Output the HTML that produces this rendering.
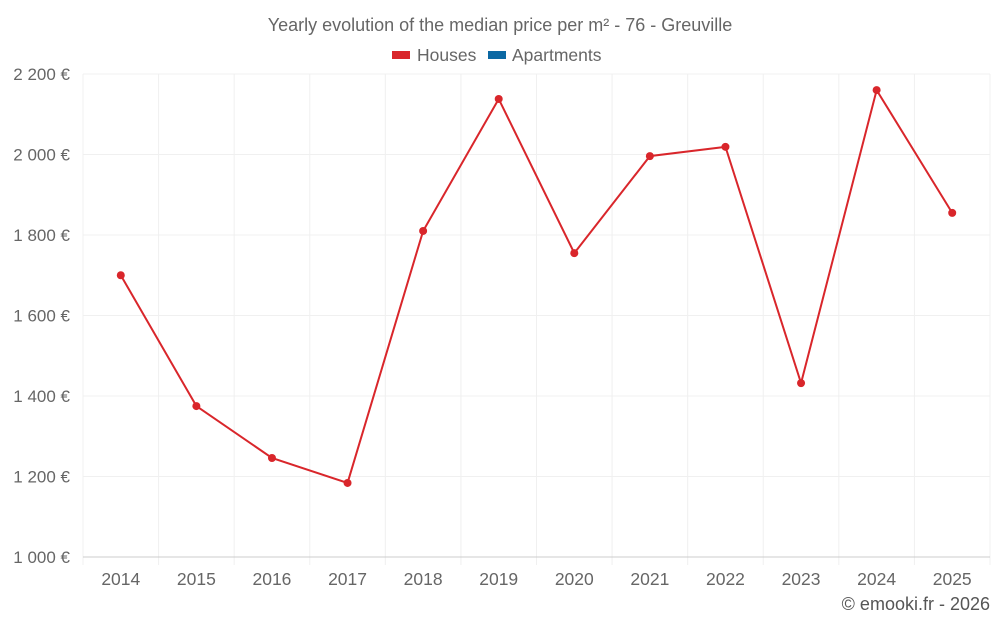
<!DOCTYPE html>
<html><head><meta charset="utf-8"><style>
body{margin:0;background:#fff;font-family:"Liberation Sans",sans-serif;}
svg text{font-family:"Liberation Sans",sans-serif;}
</style></head><body>
<svg id="chart" width="1000" height="625">
<text x="500" y="31" text-anchor="middle" font-size="18" fill="#666">Yearly evolution of the median price per m² - 76 - Greuville</text>
<g>
<g><rect x="392" y="51" width="18" height="8" fill="#d9262b"/><text x="417" y="61" font-size="17.5" fill="#666">Houses</text></g>
<g><rect x="488" y="51" width="18" height="8" fill="#0b68a3"/><text x="512" y="61" font-size="17.5" fill="#666">Apartments</text></g>
</g>
<g id="grid"></g><g id="axes"></g><g id="series"></g>
<text x="990" y="610" text-anchor="end" font-size="18" fill="#555">© emooki.fr - 2026</text>
</svg>
<script>
const categories=["2014","2015","2016","2017","2018","2019","2020","2021","2022","2023","2024","2025"];
const houses=[1700,1375,1246,1184,1810,2138,1755,1996,2019,1432,2160,1855];
const yTicks=[1000,1200,1400,1600,1800,2000,2200];
const yTickLabels=["1 000 €","1 200 €","1 400 €","1 600 €","1 800 €","2 000 €","2 200 €"];
const NS="http://www.w3.org/2000/svg";
const L=83,R=990,T=74,B=557,yMin=1000,yMax=2200;
const band=(R-L)/categories.length;
const x=i=>L+band*(i+0.5);
const y=v=>B-(v-yMin)/(yMax-yMin)*(B-T);
function mk(tag,attrs,parent){const e=document.createElementNS(NS,tag);for(const k in attrs)e.setAttribute(k,attrs[k]);document.getElementById(parent).appendChild(e);return e;}
for(let i=0;i<=categories.length;i++){const gx=L+band*i;const l=mk("line",{x1:gx,x2:gx,y1:T,y2:B+8,stroke:"#f0f0f0"},"grid");

}
yTicks.forEach((v,i)=>{const l=mk("line",{x1:L,x2:R,y1:y(v),y2:y(v),stroke:i===0?"#ccc":"#f0f0f0"},"grid");


const t=mk("text",{x:70,y:y(v)+6,"text-anchor":"end","font-size":17,fill:"#666"},"axes");t.textContent=yTickLabels[i];

});
categories.forEach((c,i)=>{const t=mk("text",{x:x(i),y:585,"text-anchor":"middle","font-size":17.5,fill:"#666"},"axes");t.textContent=c;

});
const p=mk("polyline",{points:houses.map((v,i)=>x(i)+","+y(v)).join(" "),fill:"none",stroke:"#d9262b","stroke-width":2},"series");


houses.forEach((v,i)=>{const c=mk("circle",{cx:x(i),cy:y(v),r:4,fill:"#d9262b"},"series");

});
</script>
</body></html>
